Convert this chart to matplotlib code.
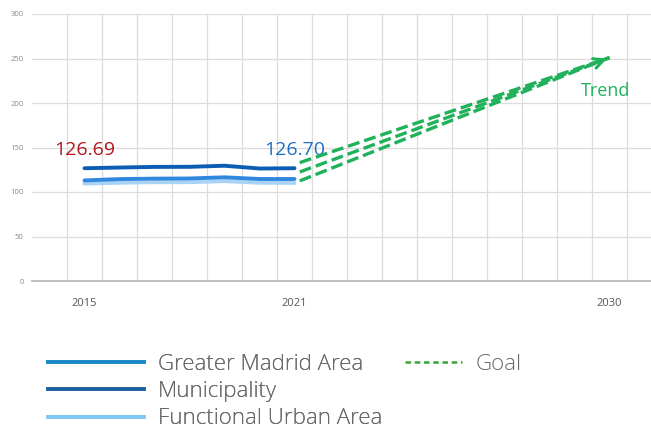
import matplotlib.pyplot as plt
from matplotlib.lines import Line2D
import numpy as np

plt.rcParams['font.family'] = ['Open Sans', 'DejaVu Sans']

# datos
years = [2015, 2016, 2017, 2018, 2019, 2020, 2021]
municipality = [126.69, 127.5, 128.2, 128.3, 129.5, 126.4, 126.70]
greater_madrid = [113.0, 114.5, 115.0, 115.2, 116.5, 114.6, 114.6]
functional_urban = [109.5, 110.4, 111.0, 111.0, 112.2, 110.4, 110.2]

goal_years = [2021.15, 2030]
goal_start = [133.0, 122.5, 112.5]
goal_end = 251

tick_years = [2015, 2021, 2030]
tick_labels = ['2015', '2021', '2030']
yticks = [0, 50, 100, 150, 200, 250, 300]

green = '#1fb25a'

fig = plt.figure(figsize=(6.51, 4.32), dpi=100)
ax = fig.add_axes([32 / 651, 1 - 281 / 432, 1 - 32 / 651, (281 - 14) / 432])

# lineas
ax.plot(years, functional_urban, color='#a9d3f5', lw=2.8, solid_capstyle='round', zorder=3)
ax.plot(years, greater_madrid, color='#2f88de', lw=2.8, solid_capstyle='round', zorder=4)
ax.plot(years, municipality, color='#0b5cb5', lw=2.8, solid_capstyle='round', zorder=5)

for s in goal_start:
    ax.plot(goal_years, [s, goal_end], color=green, lw=2.4, dashes=(3.6, 1.5), zorder=4)
ax.annotate('', xy=(goal_years[1], goal_end), xytext=(goal_years[1] - 0.6, goal_end - 9),
            arrowprops=dict(arrowstyle='->', color=green, lw=2.2, mutation_scale=18))
ax.text(2029.9, 213, 'Trend', color=green, fontsize=13, ha='center', va='center')

ax.annotate('126.69', xy=(years[0], municipality[0]), xytext=(0, 13), textcoords='offset points',
            ha='center', va='center', fontsize=14, color='#b3141c')
ax.annotate('126.70', xy=(years[-1], municipality[-1]), xytext=(0, 13), textcoords='offset points',
            ha='center', va='center', fontsize=14, color='#1f6fc5')

# ejes
ax.set_xlim(2013.5, 2015 + (651 - 84.5) / 35)
ax.set_ylim(0, 300)
ax.set_yticks(yticks)
ax.set_yticklabels([str(v) for v in yticks], fontsize=5.5, color='#8a8a8a')
ax.set_xticks(tick_years)
ax.set_xticklabels(tick_labels, fontsize=8, color='#555555')
ax.set_xticks(np.arange(2014.5, 2031, 1), minor=True)
ax.tick_params(axis='both', which='both', length=0)
ax.tick_params(axis='x', pad=12)
ax.tick_params(axis='y', pad=6)
ax.grid(axis='y', color='#dcdcdc', lw=0.9)
ax.grid(axis='x', which='minor', color='#dcdcdc', lw=0.9)
ax.grid(axis='x', which='major', visible=False)
for sp in ['top', 'right', 'left']:
    ax.spines[sp].set_visible(False)
ax.spines['bottom'].set_color('#c0c0c0')
ax.spines['bottom'].set_linewidth(1.4)
ax.set_axisbelow(True)

# leyenda
lp = dict(size=16, weight='light')
h1 = [Line2D([], [], color='#1a88c9', lw=2.6),
      Line2D([], [], color='#1f5fa0', lw=2.6),
      Line2D([], [], color='#80c8f5', lw=2.6)]
leg1 = fig.legend(h1, ['Greater Madrid Area', 'Municipality', 'Functional Urban Area'],
                  loc='upper left', bbox_to_anchor=(48 / 651, 1 - 354 / 432), frameon=False,
                  prop=lp, handlelength=4.3, handletextpad=0.65, labelspacing=0.28,
                  borderpad=0, borderaxespad=0, labelcolor='#6a6a6a')
h2 = [Line2D([], [], color='#3aa335', lw=1.8, dashes=(2.2, 1.5))]
leg2 = fig.legend(h2, ['Goal'], loc='upper left', bbox_to_anchor=(405 / 651, 1 - 354 / 432),
                  frameon=False, prop=lp, handlelength=2.55, handletextpad=0.65,
                  borderpad=0, borderaxespad=0, labelcolor='#6a6a6a')
fig.add_artist(leg1)

fig.savefig('out.png', dpi=100)
